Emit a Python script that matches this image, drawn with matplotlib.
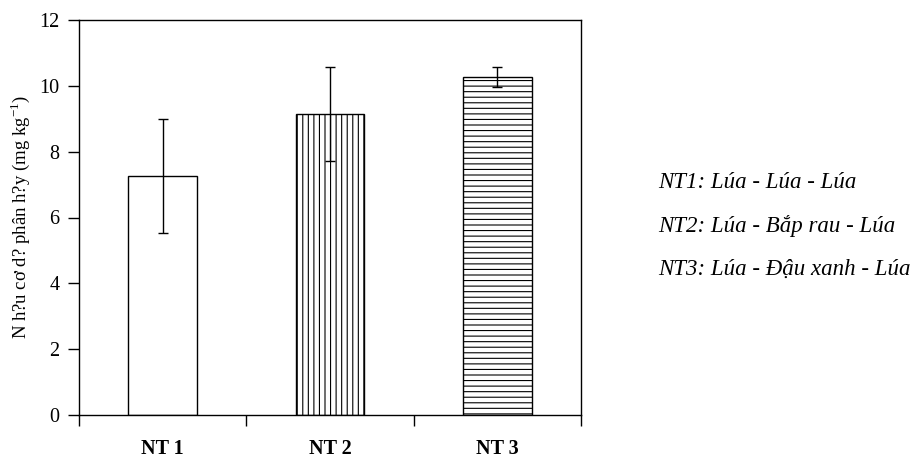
import numpy as np
import matplotlib
matplotlib.use("Agg")
import matplotlib.pyplot as plt
from matplotlib.ticker import FixedLocator

# data
treatments = ["NT 1", "NT 2", "NT 3"]
means = [7.25, 9.15, 10.27]
errors = [1.73, 1.43, 0.30]
hatches = ["", "|||", "---"]
legend_lines = [
    "NT1: Lúa - Lúa - Lúa",
    "NT2: Lúa - Bắp rau - Lúa",
    "NT3: Lúa - Đậu xanh - Lúa",
]

plt.rcParams["font.family"] = ["Liberation Serif", "DejaVu Serif"]
plt.rcParams["mathtext.fontset"] = "custom"
plt.rcParams["mathtext.rm"] = "Liberation Serif"
plt.rcParams["hatch.linewidth"] = 0.8

fig = plt.figure(figsize=(9.23, 4.58), dpi=100)
ax = fig.add_axes([79 / 923, 1 - 415 / 458, 502 / 923, 395 / 458])

x = np.arange(len(treatments)) + 0.5
ax.bar(x, means, width=0.41, color="white", edgecolor="black",
       linewidth=1.0, hatch=hatches)
ax.errorbar(x, means, yerr=errors, fmt="none", ecolor="black",
            elinewidth=1.0, capsize=3.5, capthick=1.0)

ax.set_xlim(0, 3)
ax.set_ylim(0, 12)
ax.set_yticks(range(0, 13, 2))
ax.xaxis.set_major_locator(FixedLocator([0, 1, 2, 3]))
ax.xaxis.set_minor_locator(FixedLocator(list(x)))
ax.set_xticklabels([], minor=False)
ax.set_xticklabels(treatments, minor=True, fontweight="bold", fontsize=14.5)
ax.tick_params(axis="x", which="major", direction="out", length=8, width=1)
ax.tick_params(axis="x", which="minor", length=0, pad=17)
ax.tick_params(axis="y", direction="out", length=8, width=1, labelsize=14.5, pad=6)

for s in ax.spines.values():
    s.set_linewidth(1.0)

ax.set_ylabel("N h?u cơ d? phân h?y (mg kg$^{-1}$)", fontsize=13.5)
ax.yaxis.set_label_coords(-0.094, 0.5)

for i, line in enumerate(legend_lines):
    fig.text(658 / 923, 1 - (183 + 43 * i) / 458, line, fontsize=16.5,
             style="italic", va="center", ha="left")

fig.savefig("out.png", dpi=100)
